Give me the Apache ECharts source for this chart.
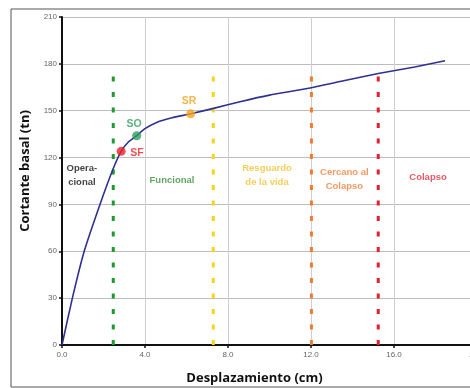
<!DOCTYPE html>
<html><head><meta charset="utf-8">
<script src="https://cdn.jsdelivr.net/npm/echarts@6/dist/echarts.min.js"></script>
<style>html,body{margin:0;padding:0;background:#fff}#c{width:470px;height:388px}</style>
</head><body><div id="c"></div>
<script>
const curveX = [0, 0.5, 1.07, 1.83, 2.47, 2.85, 3.2, 3.6, 4.0, 4.56, 5.3, 6.2, 7.3, 8.58, 10, 11.95, 13.4, 15.24, 17, 18.46];
const curveY = [0, 30, 60, 90, 113, 124, 130, 134, 138.5, 142.5, 145.5, 148, 151.5, 155.8, 160, 164.5, 168.7, 173.8, 178, 182];
const pointNames = ['SF', 'SO', 'SR'];
const pointX = [2.85, 3.6, 6.2];
const pointY = [124, 134, 148];
const limitNames = ['Operacional', 'Funcional', 'Resguardo de la vida', 'Cercano al Colapso'];
const limitX = [2.47, 7.29, 12.02, 15.24];
const limitTop = 176;
const zoneTexts = ['Opera-\ncional', 'Funcional', 'Resguardo\nde la vida', 'Cercano al\nColapso', 'Colapso'];
const zoneX = [0.96, 5.3, 9.88, 13.61, 17.64];
const zoneY = [108.8, 105.6, 108.5, 106, 107.2];
const pointLabelX = [3.61, 3.47, 6.12];
const pointLabelY = [122.9, 141.5, 156.2];
const xTicks = [0, 4, 8, 12, 16, 20];
const yTicks = [0, 30, 60, 90, 120, 150, 180, 210];

const limitColors = ['#1f9a2f', '#f7d31c', '#f47a30', '#e4202c'];
const pointColors = ['#e8202a', '#2e9e62', '#f7a21b'];
const zoneColors = ['#111', '#3a8f3a', '#f2c233', '#f08040', '#e03040'];

const series = [];
series.push({
  type: 'line', data: curveX.map((x, i) => [x, curveY[i]]), smooth: 0.2,
  showSymbol: false, lineStyle: { color: '#2e3192', width: 1.6 }, z: 5
});
limitX.forEach((x, i) => {
  series.push({
    type: 'line', name: limitNames[i], data: [[x, 0], [x, limitTop]], showSymbol: false,
    lineStyle: { color: limitColors[i], width: 3, type: [5, 10.5], cap: 'butt' }, z: 3
  });
});
series.push({
  type: 'scatter', data: pointX.map((x, i) => ({ value: [x, pointY[i]], itemStyle: { color: pointColors[i] } })),
  symbolSize: 9, z: 6
});
series.push({
  type: 'scatter', symbolSize: 0, silent: true, z: 7,
  data: pointNames.map((n, i) => ({ value: [pointLabelX[i], pointLabelY[i]],
    label: { show: true, formatter: n, color: pointColors[i], fontSize: 10.5, fontWeight: 'bold', fontFamily: 'Liberation Sans', position: 'inside' } }))
});
series.push({
  type: 'scatter', symbolSize: 0, silent: true, z: 7,
  data: zoneTexts.map((t, i) => ({ value: [zoneX[i], zoneY[i]],
    label: { show: true, formatter: t, color: zoneColors[i], fontSize: 9.5, fontWeight: 'bold', fontFamily: 'Liberation Sans', lineHeight: 14, position: 'inside', align: 'center' } }))
});

const chart = echarts.init(document.getElementById('c'), null, { renderer: 'canvas' });
chart.setOption({
  animation: false,
  backgroundColor: '#fff',
  grid: { left: 62, top: 17, width: 415, bottom: 43, containLabel: false, outerBoundsMode: 'none' },
  graphic: [{ type: 'rect', shape: { x: 11, y: 9, width: 480, height: 378 }, style: { fill: 'none', stroke: '#555', lineWidth: 1 }, z: -1 }],
  xAxis: {
    type: 'value', min: 0, max: 20, interval: 4,
    name: 'Desplazamiento (cm)', nameLocation: 'middle', nameGap: 27,
    nameTextStyle: { fontSize: 13, fontWeight: 'bold', color: '#111', fontFamily: 'Open Sans', padding: [0, 30, 0, 0] },
    axisLine: { lineStyle: { color: '#111', width: 2 } },
    axisTick: { show: true, length: 3, lineStyle: { color: '#111', width: 1.5 } },
    axisLabel: { color: '#666', fontSize: 8, fontFamily: 'Liberation Sans', margin: 6, formatter: v => v.toFixed(1) },
    splitLine: { show: true, lineStyle: { color: '#cfcfcf', width: 1 } }
  },
  yAxis: {
    type: 'value', min: 0, max: 210, interval: 30,
    name: 'Cortante basal (tn)', nameLocation: 'middle', nameGap: 30,
    nameTextStyle: { fontSize: 13, fontWeight: 'bold', color: '#111', fontFamily: 'Open Sans', padding: [0, 0, 0, 20] },
    axisLine: { show: true, lineStyle: { color: '#111', width: 2 } },
    axisTick: { show: true, length: 3, lineStyle: { color: '#111', width: 1.5 } },
    axisLabel: { color: '#666', fontSize: 8, fontFamily: 'Liberation Sans', margin: 5 },
    splitLine: { show: true, lineStyle: { color: '#bdbdbd', width: 1 } }
  },
  series: series
});
</script></body></html>
